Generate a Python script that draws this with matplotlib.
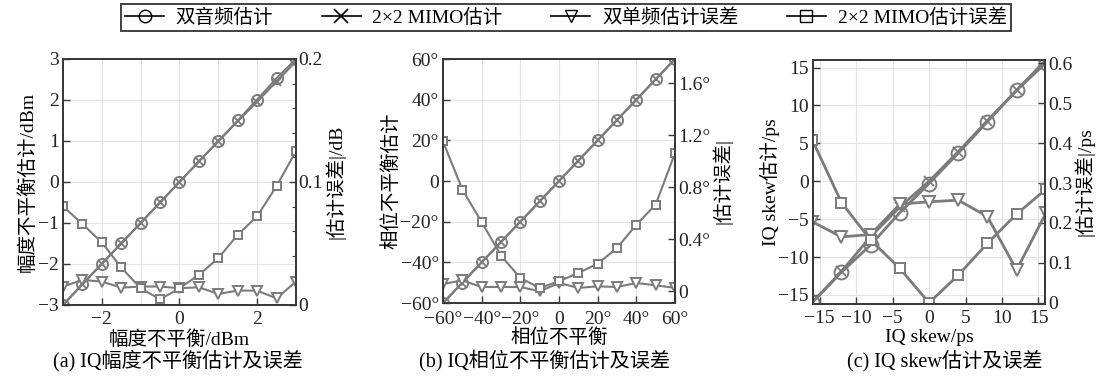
import matplotlib.pyplot as plt
from matplotlib.ticker import MultipleLocator, FixedLocator, FuncFormatter
from matplotlib.lines import Line2D

plt.rcParams['font.family'] = ['Liberation Serif', 'Noto Sans CJK SC']
plt.rcParams['axes.unicode_minus'] = True

# (a) amplitude imbalance
amp_x = [-3, -2.5, -2, -1.5, -1, -0.5, 0, 0.5, 1, 1.5, 2, 2.5, 3]
amp_tone = [-3, -2.5, -2, -1.5, -1, -0.5, 0, 0.5, 1, 1.5, 2.01, 2.53, 3]
amp_mimo = [-3, -2.49, -1.99, -1.5, -1, -0.5, 0, 0.5, 0.99, 1.48, 1.96, 2.45, 2.94]
amp_tone_err = [0.015, 0.0204, 0.019, 0.0141, 0.015, 0.015, 0.0136, 0.0144,
                0.009, 0.0117, 0.0117, 0.0054, 0.019]
amp_mimo_err = [0.0803, 0.0658, 0.0509, 0.0305, 0.0136, 0.0046, 0.0136, 0.0245,
                0.0381, 0.0571, 0.0721, 0.0966, 0.125]

# (b) phase imbalance
pha_x = [-60, -50, -40, -30, -20, -10, 0, 10, 20, 30, 40, 50, 60]
pha_tone = [-60, -50, -40, -30, -20, -10, 0, 10, 20, 30, 40, 50, 60]
pha_mimo = [-60, -50, -40, -30, -20, -10, 0, 10, 20, 30, 40, 50, 60]
pha_tone_err = [0.056, 0.084, 0.033, 0.033, 0.033, 0.0, 0.064, 0.026,
                0.038, 0.033, 0.064, 0.046, 0.026]
pha_mimo_err = [1.152, 0.781, 0.532, 0.274, 0.102, 0.026, 0.077, 0.141,
                0.212, 0.333, 0.512, 0.666, 1.062]

# (c) IQ skew
skw_x = [-16, -12, -8, -4, 0, 4, 8, 12, 16]
skw_tone = [-16, -12.0, -8.4, -4.15, -0.3, 3.7, 7.86, 12.0, 15.6]
skw_mimo = [-16, -11.9, -7.3, -3.4, 0, 3.9, 8.0, 12.0, 16]
skw_tone_err = [0.203, 0.165, 0.171, 0.247, 0.253, 0.257, 0.216, 0.082, 0.224]
skw_mimo_err = [0.408, 0.251, 0.157, 0.086, 0.0, 0.069, 0.149, 0.222, 0.284]

labels = ['双音频估计', '2×2 MIMO估计', '双单频估计误差', '2×2 MIMO估计误差']

gray = '#7b7b7b'
spine_c = '#3a3a3a'
FS = 14


def deg(v, pos):
    if abs(v) < 1e-9:
        return '0'
    s = ('%g' % v).replace('-', '\u2212')
    return s + '°'


def plain(v, pos):
    if abs(v) < 1e-9:
        return '0'
    return ('%g' % v).replace('-', '\u2212')


def panel(rect, x, tone, mimo, tone_err, mimo_err, lw=1.5, ms=1.0):
    ax = fig.add_axes(rect)
    ax2 = ax.twinx()
    ax.plot(x, tone, '-', color=gray, lw=lw, marker='o', ms=8 * ms, mfc='none',
            mec=gray, mew=1.4, zorder=3)
    ax.plot(x, mimo, '-', color=gray, lw=lw, marker='x', ms=6 * ms, mec=gray,
            mew=1.3, zorder=3)
    ax2.plot(x, tone_err, '-', color=gray, lw=lw, marker='v', ms=7 * ms, mfc='white',
             mec=gray, mew=1.4)
    ax2.plot(x, mimo_err, '-', color=gray, lw=lw, marker='s', ms=5.5 * ms, mfc='white',
             mec=gray, mew=1.4)
    for a in (ax, ax2):
        for s in a.spines.values():
            s.set_color(spine_c)
            s.set_linewidth(1.4)
    ax.tick_params(direction='in', labelsize=FS, length=5, width=1.0, colors=spine_c,
                   labelcolor='#222222', pad=4)
    ax.tick_params(axis='y', pad=3)
    ax2.tick_params(direction='in', labelsize=FS, length=5, width=1.0, colors=spine_c,
                    labelcolor='#222222', pad=2)
    ax2.tick_params(which='minor', direction='in', length=3, width=0.8, colors=spine_c)
    ax.tick_params(which='minor', length=0)
    ax.grid(True, which='both', color='#e4e4e4', lw=0.8)
    ax.set_axisbelow(True)
    return ax, ax2


fig = plt.figure(figsize=(10.99, 3.82), dpi=100)

# (a)
ax, ax2 = panel([0.0573, 0.2016, 0.2120, 0.644], amp_x, amp_tone, amp_mimo,
                amp_tone_err, amp_mimo_err)
ax.set_xlim(-3, 3)
ax.set_ylim(-3, 3)
ax.xaxis.set_major_locator(FixedLocator([-2, 0, 2]))
ax.xaxis.set_minor_locator(FixedLocator([-1, 1]))
ax.yaxis.set_major_locator(MultipleLocator(1))
ax.xaxis.set_major_formatter(FuncFormatter(plain))
ax.yaxis.set_major_formatter(FuncFormatter(plain))
ax2.set_ylim(0, 0.2)
ax2.yaxis.set_major_locator(FixedLocator([0, 0.1, 0.2]))
ax2.yaxis.set_major_formatter(FuncFormatter(plain))
ax2.yaxis.set_minor_locator(MultipleLocator(0.02))
ax.set_xlabel('幅度不平衡/dBm', fontsize=FS, labelpad=2)
ax.set_ylabel('幅度不平衡估计/dBm', fontsize=FS, labelpad=1)
ax2.set_ylabel('|估计误差|/dB', fontsize=FS, labelpad=1)
fig.text(0.162, 0.056, '(a) IQ幅度不平衡估计及误差', ha='center', va='center',
         fontsize=14.5)

# (b)
ax, ax2 = panel([0.4031, 0.2068, 0.2111, 0.6387], pha_x, pha_tone, pha_mimo,
                pha_tone_err, pha_mimo_err)
ax.set_xlim(-60, 60)
ax.set_ylim(-60, 60)
ax.xaxis.set_major_locator(MultipleLocator(20))
ax.yaxis.set_major_locator(MultipleLocator(20))
ax.xaxis.set_major_formatter(FuncFormatter(deg))
ax.yaxis.set_major_formatter(FuncFormatter(deg))
ax.tick_params(axis='x', pad=6)
ax2.set_ylim(-0.09, 1.785)
ax2.yaxis.set_major_locator(FixedLocator([0, 0.4, 0.8, 1.2, 1.6]))
ax2.yaxis.set_major_formatter(FuncFormatter(deg))
ax.set_xlabel('相位不平衡', fontsize=FS, labelpad=0)
ax.set_ylabel('相位不平衡估计', fontsize=FS, labelpad=0)
ax2.set_ylabel('|估计误差|', fontsize=FS, labelpad=1)
fig.text(0.495, 0.056, '(b) IQ相位不平衡估计及误差', ha='center', va='center',
         fontsize=14.5)

# (c)
ax, ax2 = panel([0.7398, 0.2042, 0.2111, 0.6387], skw_x, skw_tone, skw_mimo,
                skw_tone_err, skw_mimo_err, lw=2.0, ms=1.25)
ax.set_xlim(-15.9, 15.9)
ax.set_ylim(-16.2, 16)
ax.xaxis.set_major_locator(MultipleLocator(5))
ax.yaxis.set_major_locator(MultipleLocator(5))
ax.xaxis.set_major_formatter(FuncFormatter(plain))
ax.yaxis.set_major_formatter(FuncFormatter(plain))
ax2.set_ylim(-0.003, 0.608)
ax2.yaxis.set_major_locator(MultipleLocator(0.1))
ax2.yaxis.set_major_formatter(FuncFormatter(plain))
ax.set_xlabel('IQ skew/ps', fontsize=FS, labelpad=2)
ax.set_ylabel('IQ skew估计/ps', fontsize=FS, labelpad=-1)
ax2.set_ylabel('|估计误差|/ps', fontsize=FS, labelpad=1)
fig.text(0.86, 0.056, '(c) IQ skew估计及误差', ha='center', va='center', fontsize=14.5)

# legend
handles = [
    Line2D([], [], color='black', lw=1.2, marker='o', ms=9, mfc='none', mec='black'),
    Line2D([], [], color='black', lw=1.2, marker='x', ms=10, mec='black', mew=1.2),
    Line2D([], [], color='black', lw=1.2, marker='v', ms=9, mfc='none', mec='black'),
    Line2D([], [], color='black', lw=1.2, marker='s', ms=8, mfc='none', mec='black'),
]
leg = fig.legend(handles, labels, loc='center', bbox_to_anchor=(0.515, 0.954), ncol=4,
                 fontsize=FS, frameon=True, fancybox=False, handlelength=2.0,
                 columnspacing=2.5, handletextpad=0.6, borderpad=0.2, borderaxespad=0)
leg.get_frame().set_edgecolor('black')
leg.get_frame().set_linewidth(1.3)

fig.savefig('out.png', dpi=100)
